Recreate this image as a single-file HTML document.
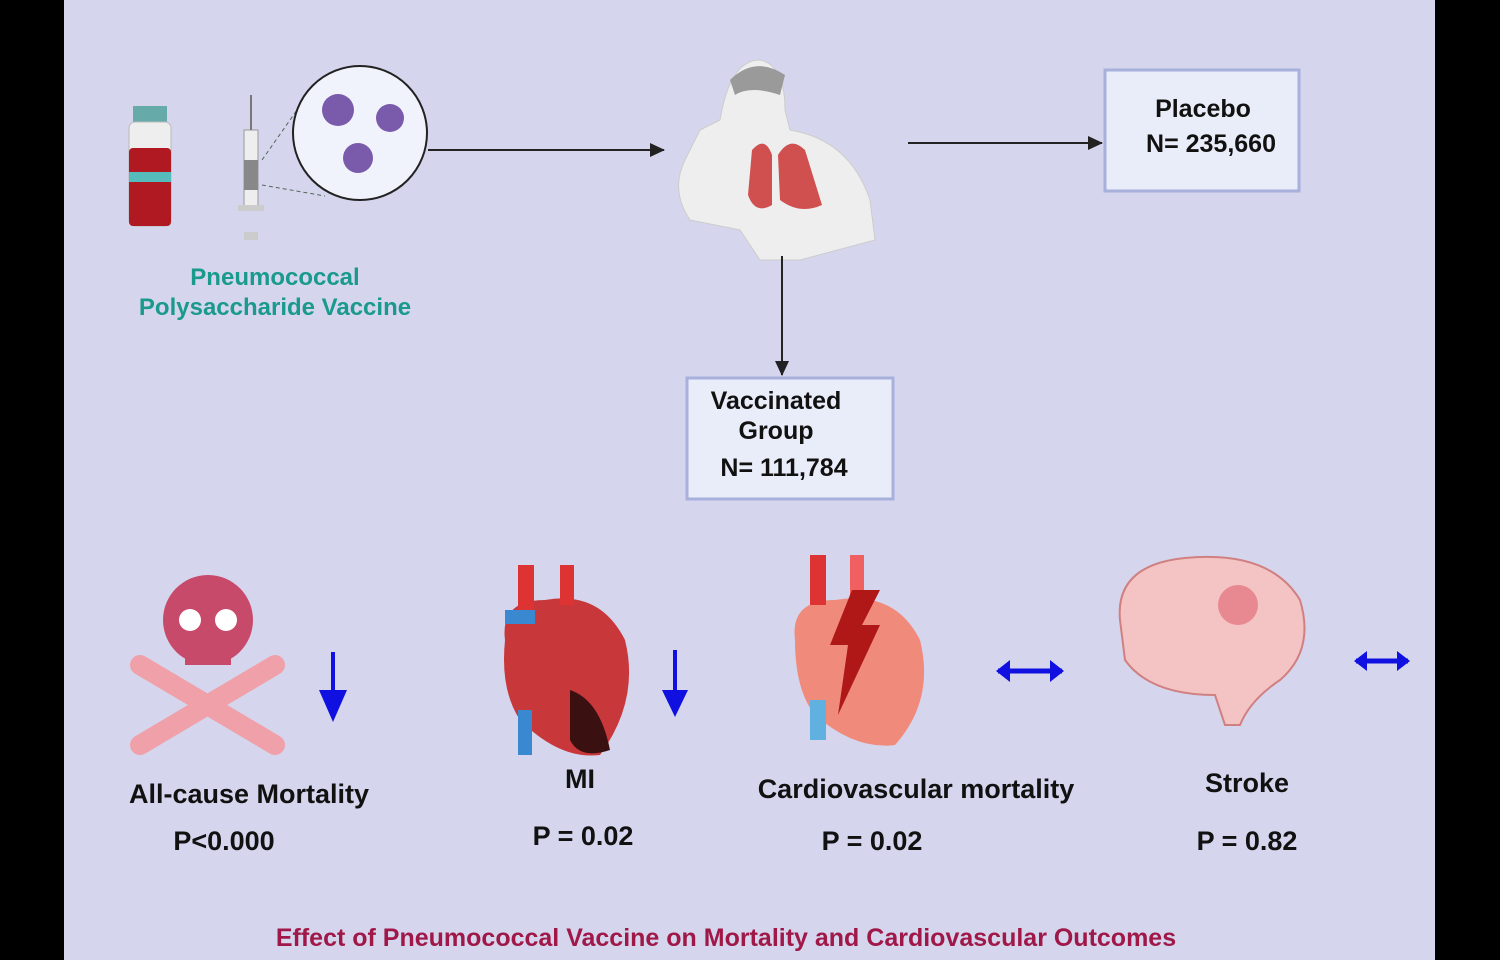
<!DOCTYPE html>
<html><head><meta charset="utf-8"><style>
body{margin:0;width:1500px;height:960px;background:#000;overflow:hidden}
svg{display:block}
text{font-family:"Liberation Sans",sans-serif;font-weight:bold}
</style></head><body>
<svg width="1500" height="960" viewBox="0 0 1500 960">
<defs><marker id="a" markerWidth="16" markerHeight="14" refX="14" refY="7" orient="auto" markerUnits="userSpaceOnUse"><path d="M0,0 L15,7 L0,14z" fill="#222"/></marker></defs>
<rect x="64" y="0" width="1371" height="960" fill="#d5d6ee"/>
<rect x="133" y="106" width="34" height="16" fill="#6aa"/>
<rect x="129" y="122" width="42" height="104" rx="6" fill="#eee" stroke="#bbb"/>
<rect x="129" y="148" width="42" height="78" rx="4" fill="#b01822"/>
<rect x="129" y="172" width="42" height="10" fill="#5bb"/>
<rect x="244" y="130" width="14" height="80" fill="#eee" stroke="#999"/>
<rect x="244" y="160" width="14" height="30" fill="#888"/>
<line x1="251" y1="95" x2="251" y2="130" stroke="#777" stroke-width="2"/>
<rect x="238" y="205" width="26" height="6" fill="#ccc"/>
<rect x="244" y="232" width="14" height="8" fill="#ccc"/>
<line x1="262" y1="160" x2="318" y2="80" stroke="#565" stroke-dasharray="4 3"/>
<line x1="262" y1="185" x2="325" y2="196" stroke="#565" stroke-dasharray="4 3"/>
<circle cx="360" cy="133" r="67" fill="#f0f3fb" stroke="#222" stroke-width="2"/>
<g fill="#7a5aaa"><circle cx="338" cy="110" r="16"/><circle cx="390" cy="118" r="14"/><circle cx="358" cy="158" r="15"/></g>
<text x="275" y="285" text-anchor="middle" font-size="24" fill="#1a9a8c">Pneumococcal</text>
<text x="275" y="315" text-anchor="middle" font-size="24" fill="#1a9a8c">Polysaccharide Vaccine</text>
<line x1="428" y1="150" x2="664" y2="150" stroke="#222" stroke-width="2" marker-end="url(#a)"/>
<path d="M720,120 Q730,60 760,60 Q785,65 785,110 L790,130 Q850,140 870,200 L875,240 L800,260 L760,260 L740,230 L690,220 Q670,190 685,160 L700,130Z" fill="#eeeeee" stroke="#ccc"/>
<path d="M730,80 Q755,55 785,75 L780,95 Q750,85 735,95Z" fill="#9a9a9a"/>
<path d="M752,150 Q765,135 772,155 L772,205 Q755,215 748,195Z M778,155 Q790,135 805,150 L822,205 Q800,215 780,200Z" fill="#d05050"/>
<line x1="908" y1="143" x2="1102" y2="143" stroke="#222" stroke-width="2" marker-end="url(#a)"/>
<line x1="782" y1="256" x2="782" y2="375" stroke="#222" stroke-width="2" marker-end="url(#a)"/>
<rect x="1105" y="70" width="194" height="121" fill="#e9edf9" stroke="#a8b0dc" stroke-width="3"/>
<text x="1203" y="117" text-anchor="middle" font-size="25" fill="#111">Placebo</text>
<text x="1211" y="152" text-anchor="middle" font-size="25" fill="#111">N= 235,660</text>
<rect x="687" y="378" width="206" height="121" fill="#e9edf9" stroke="#a8b0dc" stroke-width="3"/>
<text x="776" y="409" text-anchor="middle" font-size="25" fill="#111">Vaccinated</text>
<text x="776" y="439" text-anchor="middle" font-size="25" fill="#111">Group</text>
<text x="784" y="476" text-anchor="middle" font-size="25" fill="#111">N= 111,784</text>
<g><line x1="140" y1="665" x2="275" y2="745" stroke="#f0a0a8" stroke-width="20" stroke-linecap="round"/><line x1="275" y1="665" x2="140" y2="745" stroke="#f0a0a8" stroke-width="20" stroke-linecap="round"/></g>
<ellipse cx="208" cy="620" rx="45" ry="45" fill="#c84a6a"/>
<rect x="185" y="640" width="46" height="25" fill="#c84a6a"/>
<circle cx="190" cy="620" r="11" fill="#fff"/><circle cx="226" cy="620" r="11" fill="#fff"/>
<path d="M333,652 V700" stroke="#1010e0" stroke-width="4"/><path d="M319,690 L333,722 L347,690Z" fill="#1010e0"/>
<path d="M505,640 Q500,600 545,600 Q600,590 625,640 Q640,700 600,755 Q560,760 520,720 Q500,690 505,640Z" fill="#c8383a"/>
<rect x="518" y="565" width="16" height="50" fill="#d33"/><rect x="560" y="565" width="14" height="40" fill="#d33"/><rect x="505" y="610" width="30" height="14" fill="#3a88d0"/>
<rect x="518" y="710" width="14" height="45" fill="#3a88d0"/><path d="M570,690 Q600,700 610,750 Q580,760 570,740Z" fill="#3a1010"/>
<path d="M675,650 V700" stroke="#1010e0" stroke-width="4"/><path d="M662,690 L675,717 L688,690Z" fill="#1010e0"/>
<path d="M795,640 Q790,600 835,600 Q895,590 920,640 Q935,700 895,745 Q855,750 815,715 Q795,690 795,640Z" fill="#f08a7a"/>
<rect x="810" y="555" width="16" height="50" fill="#d33"/><rect x="850" y="555" width="14" height="40" fill="#f06060"/>
<rect x="810" y="700" width="16" height="40" fill="#60b0e0"/>
<path d="M852,590 L880,590 L862,625 L880,625 L838,715 L848,645 L830,645Z" fill="#b01818"/>
<path d="M998,671 H1062" stroke="#1010e0" stroke-width="5"/><path d="M1010,660 L996,671 L1010,682Z M1050,660 L1064,671 L1050,682Z" fill="#1010e0"/>
<path d="M1120,620 Q1115,565 1185,558 Q1270,550 1300,600 Q1315,650 1280,680 Q1250,700 1240,725 L1225,725 L1215,695 Q1150,695 1125,660Z" fill="#f4c4c4" stroke="#d08080" stroke-width="2"/>
<circle cx="1238" cy="605" r="20" fill="#e06070" opacity=".6"/>
<path d="M1356,661 H1408" stroke="#1010e0" stroke-width="5"/><path d="M1367,651 L1354,661 L1367,671Z M1397,651 L1410,661 L1397,671Z" fill="#1010e0"/>
<g font-size="27" fill="#111" text-anchor="middle">
<text x="249" y="803">All-cause Mortality</text>
<text x="224" y="850">P&lt;0.000</text>
<text x="580" y="788">MI</text>
<text x="583" y="845">P = 0.02</text>
<text x="916" y="798">Cardiovascular mortality</text>
<text x="872" y="850">P = 0.02</text>
<text x="1247" y="792">Stroke</text>
<text x="1247" y="850">P = 0.82</text>
</g>
<text x="726" y="946" text-anchor="middle" font-size="25" fill="#a01848">Effect of Pneumococcal Vaccine on Mortality and Cardiovascular Outcomes</text>
</svg>
</body></html>
